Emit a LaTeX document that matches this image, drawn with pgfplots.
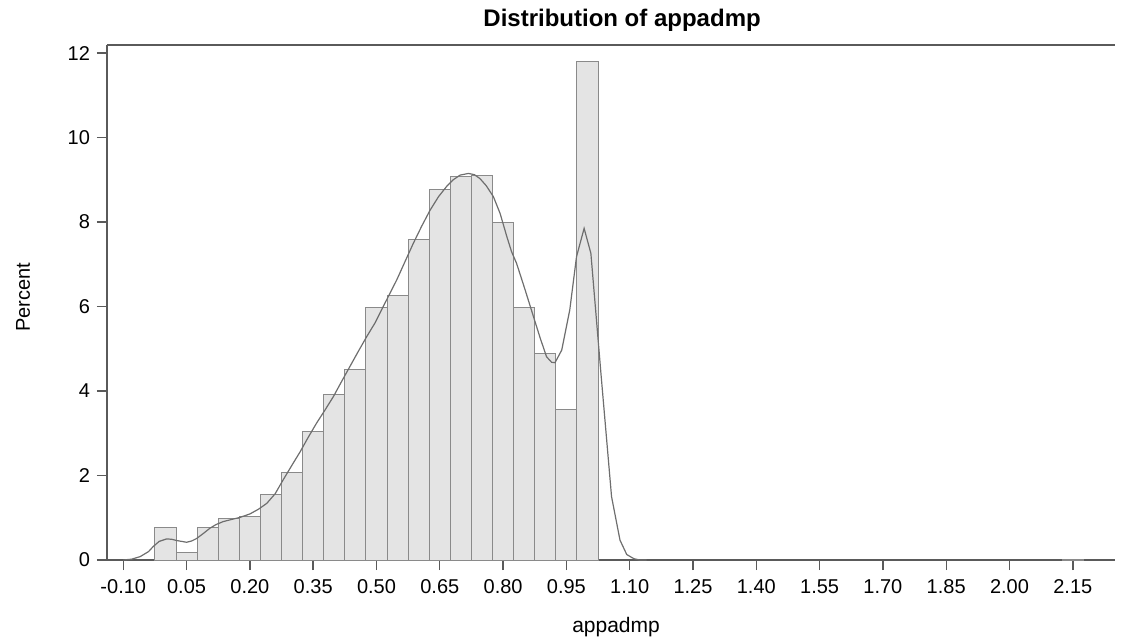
\documentclass[border=0pt]{standalone}
\usepackage{pgfplots}
\pgfplotsset{compat=1.18}
\usepackage{fontspec}
\setmainfont{Liberation Sans}
\definecolor{barfill}{HTML}{E4E4E4}
\definecolor{baredge}{HTML}{8A8A8A}
\definecolor{curve}{HTML}{6E6E6E}
\definecolor{axline}{HTML}{5A5A5A}
\begin{document}
\begin{tikzpicture}
\begin{axis}[
  at={(0,0)}, anchor=south west,
  scale only axis,
  width=504bp, height=257.5bp,
  xmin=-0.1386, xmax=2.25,
  ymin=0, ymax=12.19,
  axis x line*=box, axis y line*=left,
  axis line style={axline, line width=0.7bp},
  xtick={-0.10,0.05,0.20,0.35,0.50,0.65,0.80,0.95,1.10,1.25,1.40,1.55,1.70,1.85,2.00,2.15},
  xticklabels={-0.10,0.05,0.20,0.35,0.50,0.65,0.80,0.95,1.10,1.25,1.40,1.55,1.70,1.85,2.00,2.15},
  ytick={0,2,4,6,8,10,12},
  xtick pos=bottom,
  tick align=outside,
  major tick length=5bp,
  tick style={axline, line width=0.7bp},
  /pgf/number format/assume math mode=true,
  tick label style={font=\fontsize{10bp}{12bp}\selectfont},
  xticklabel style={text height=7.3bp, text depth=0bp, anchor=north, yshift=-1bp},
  every axis title shift=0pt,
  title={Distribution of appadmp},
  title style={font=\bfseries\fontsize{12bp}{14bp}\selectfont, at={(axis description cs:0.511,1.0485)}, anchor=center},
  xlabel={appadmp},
  xlabel style={font=\fontsize{10.5bp}{12bp}\selectfont, at={(axis description cs:0.505,-0.130)}, anchor=center},
  ylabel={Percent},
  ylabel style={font=\fontsize{10bp}{12bp}\selectfont, at={(axis description cs:-0.0833,0.51)}, anchor=center},
  clip=false,
]
\addplot[ybar, bar width=0.05, fill=barfill, draw=baredge, line width=0.5bp] coordinates {
(0.00,0.77) (0.05,0.18) (0.10,0.76) (0.15,0.99) (0.20,1.04) (0.25,1.56) (0.30,2.08)
(0.35,3.05) (0.40,3.92) (0.45,4.50) (0.50,5.98) (0.55,6.26) (0.60,7.59) (0.65,8.76)
(0.70,9.07) (0.75,9.11) (0.80,7.98) (0.85,5.98) (0.90,4.89) (0.95,3.57) (1.00,11.79)
(2.15,0.01)
};
\addplot[curve, line width=0.6bp, mark=none] coordinates {
(-0.10,0) (-0.08,0.02) (-0.06,0.08) (-0.04,0.20) (-0.029,0.32) (-0.015,0.44)
(0.003,0.50) (0.015,0.49) (0.027,0.46) (0.05,0.42) (0.062,0.45) (0.074,0.51)
(0.09,0.63) (0.105,0.75) (0.12,0.84) (0.137,0.91) (0.157,0.96) (0.177,1.01)
(0.20,1.09) (0.22,1.20) (0.24,1.34) (0.26,1.57) (0.279,1.90) (0.30,2.25)
(0.319,2.56) (0.338,2.90) (0.358,3.24) (0.378,3.55) (0.398,3.87) (0.417,4.22)
(0.437,4.58) (0.457,4.94) (0.477,5.29) (0.497,5.62) (0.516,6.00) (0.548,6.63)
(0.567,7.05) (0.587,7.49) (0.607,7.90) (0.627,8.28) (0.647,8.60) (0.666,8.84)
(0.682,9.00) (0.698,9.11) (0.718,9.15) (0.732,9.12) (0.745,9.03) (0.760,8.86)
(0.777,8.60) (0.793,8.20) (0.809,7.65) (0.820,7.30) (0.832,7.02) (0.852,6.40)
(0.872,5.76) (0.888,5.25) (0.903,4.81) (0.915,4.68) (0.923,4.67) (0.939,4.97)
(0.958,5.92) (0.974,7.18) (0.992,7.85) (1.008,7.26) (1.032,4.40) (1.057,1.50)
(1.077,0.47) (1.093,0.13) (1.11,0.03) (1.124,0) (1.14,0)
};
\end{axis}
\pgfresetboundingbox
\path (-53.5bp,-40bp) rectangle (509bp,280bp);
\end{tikzpicture}
\end{document}
